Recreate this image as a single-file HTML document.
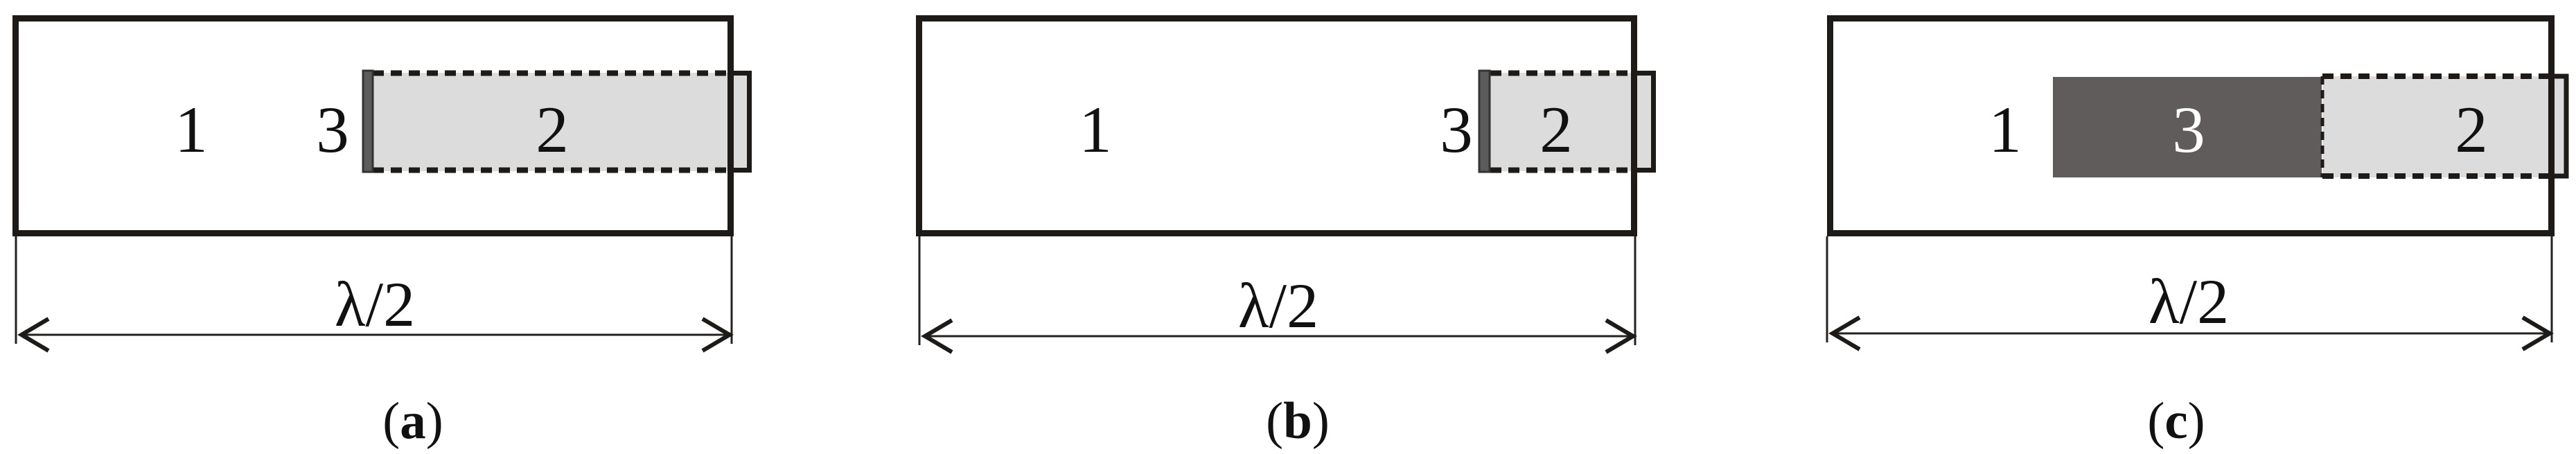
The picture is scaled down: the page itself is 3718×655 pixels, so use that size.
<!DOCTYPE html>
<html><head><meta charset="utf-8"><style>
html,body{margin:0;padding:0;background:#fff;}
svg{display:block;}
</style></head><body>
<svg width="3718" height="655" viewBox="0 0 3718 655" xmlns="http://www.w3.org/2000/svg" font-family="'Liberation Serif','DejaVu Serif','Times New Roman',serif">
<!-- Panel a -->
<g>
<rect x="525" y="105" width="558" height="142" fill="#dcdcdc"/>
<rect x="22.5" y="26.5" width="1032" height="310" fill="none" stroke="#1e1a17" stroke-width="9"/>
<line x1="538" y1="105.5" x2="1056" y2="105.5" stroke="#1e1a17" stroke-width="8" stroke-dasharray="16 10"/>
<line x1="538" y1="245.5" x2="1056" y2="245.5" stroke="#1e1a17" stroke-width="8" stroke-dasharray="16 10"/>
<polyline points="1054,105.5 1081.5,105.5 1081.5,245.5 1054,245.5" fill="none" stroke="#1e1a17" stroke-width="7"/>
<rect x="524" y="102" width="14" height="146" fill="#5c5c5c" stroke="#333" stroke-width="3"/>
<text x="276" y="219" font-size="95" text-anchor="middle" fill="#111">1</text>
<text x="480" y="219" font-size="95" text-anchor="middle" fill="#111">3</text>
<text x="797" y="219" font-size="95" text-anchor="middle" fill="#111">2</text>
<line x1="23" y1="341" x2="23" y2="496" stroke="#222" stroke-width="3"/>
<line x1="1056" y1="341" x2="1056" y2="496" stroke="#222" stroke-width="3"/>
<line x1="28" y1="483" x2="1052" y2="483" stroke="#222" stroke-width="3"/>
<polyline points="70,460 31,483 70,506" fill="none" stroke="#1e1a17" stroke-width="6"/>
<polyline points="1014,460 1053,483 1014,506" fill="none" stroke="#1e1a17" stroke-width="6"/>
<text x="541" y="470" font-size="92" text-anchor="middle" fill="#111">λ/2</text>
<text x="596" y="632" font-size="75" text-anchor="middle" fill="#111">(<tspan font-weight="bold">a</tspan>)</text>
</g>
<!-- Panel b -->
<g>
<rect x="2151" y="105" width="236" height="142" fill="#dcdcdc"/>
<rect x="1326.5" y="26.5" width="1032" height="310" fill="none" stroke="#1e1a17" stroke-width="9"/>
<line x1="2151" y1="105.5" x2="2360" y2="105.5" stroke="#1e1a17" stroke-width="8" stroke-dasharray="16 10"/>
<line x1="2151" y1="245.5" x2="2360" y2="245.5" stroke="#1e1a17" stroke-width="8" stroke-dasharray="16 10"/>
<polyline points="2358,105.5 2386.5,105.5 2386.5,245.5 2358,245.5" fill="none" stroke="#1e1a17" stroke-width="7"/>
<rect x="2135" y="102" width="15" height="146" fill="#5c5c5c" stroke="#333" stroke-width="3"/>
<text x="1581" y="219" font-size="95" text-anchor="middle" fill="#111">1</text>
<text x="2102" y="219" font-size="95" text-anchor="middle" fill="#111">3</text>
<text x="2246" y="219" font-size="95" text-anchor="middle" fill="#111">2</text>
<line x1="1327" y1="341" x2="1327" y2="498" stroke="#222" stroke-width="3"/>
<line x1="2360" y1="341" x2="2360" y2="498" stroke="#222" stroke-width="3"/>
<line x1="1332" y1="485" x2="2356" y2="485" stroke="#222" stroke-width="3"/>
<polyline points="1374,462 1335,485 1374,508" fill="none" stroke="#1e1a17" stroke-width="6"/>
<polyline points="2318,462 2357,485 2318,508" fill="none" stroke="#1e1a17" stroke-width="6"/>
<text x="1845" y="472" font-size="92" text-anchor="middle" fill="#111">λ/2</text>
<text x="1873" y="632" font-size="75" text-anchor="middle" fill="#111">(<tspan font-weight="bold">b</tspan>)</text>
</g>
<!-- Panel c -->
<g>
<rect x="2963" y="111" width="388" height="145" fill="#5f5c5b"/>
<rect x="3352" y="110" width="353" height="146" fill="#dcdcdc"/>
<rect x="2641.5" y="26.5" width="1041" height="310" fill="none" stroke="#1e1a17" stroke-width="9"/>
<line x1="3352" y1="110" x2="3682" y2="110" stroke="#1e1a17" stroke-width="8" stroke-dasharray="16 10"/>
<line x1="3352" y1="254" x2="3682" y2="254" stroke="#1e1a17" stroke-width="8" stroke-dasharray="16 10"/>
<line x1="3352" y1="110" x2="3352" y2="256" stroke="#1e1a17" stroke-width="5" stroke-dasharray="12 8"/>
<polyline points="3680,110 3704,110 3704,254 3680,254" fill="none" stroke="#1e1a17" stroke-width="7"/>
<text x="2894" y="219" font-size="95" text-anchor="middle" fill="#111">1</text>
<text x="3159" y="219" font-size="95" text-anchor="middle" fill="#fff">3</text>
<text x="3567" y="219" font-size="95" text-anchor="middle" fill="#111">2</text>
<line x1="2637" y1="341" x2="2637" y2="494" stroke="#222" stroke-width="3"/>
<line x1="3683" y1="341" x2="3683" y2="494" stroke="#222" stroke-width="3"/>
<line x1="2642" y1="481" x2="3679" y2="481" stroke="#222" stroke-width="3"/>
<polyline points="2684,458 2645,481 2684,504" fill="none" stroke="#1e1a17" stroke-width="6"/>
<polyline points="3641,458 3680,481 3641,504" fill="none" stroke="#1e1a17" stroke-width="6"/>
<text x="3159" y="466" font-size="92" text-anchor="middle" fill="#111">λ/2</text>
<text x="3141" y="632" font-size="75" text-anchor="middle" fill="#111">(<tspan font-weight="bold">c</tspan>)</text>
</g>
</svg>
</body></html>
